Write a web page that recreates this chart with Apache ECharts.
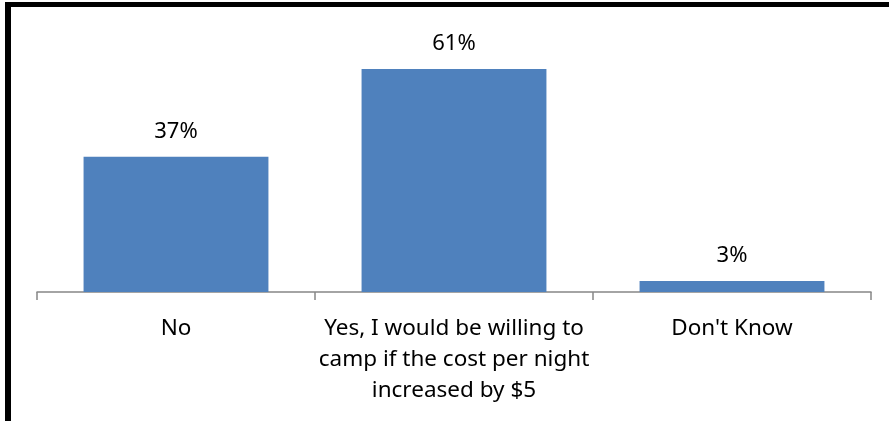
<!DOCTYPE html>
<html><head><meta charset="utf-8">
<script src="https://cdn.jsdelivr.net/npm/echarts@6/dist/echarts.min.js"></script>
<style>html,body{margin:0;padding:0;background:#fff}#c{width:889px;height:421px}</style>
</head><body><div id="c"></div>
<script>
const categories = ["No", "Yes, I would be willing to\ncamp if the cost per night\nincreased by $5", "Don't Know"];
const values = [37, 61, 3];
const labelSuffix = "%";

const chart = echarts.init(document.getElementById('c'));
chart.setOption({
  animation: false,
  backgroundColor: '#fff',
  grid: { left: 37, right: 18, top: 36, bottom: 129, containLabel: false },
  xAxis: {
    type: 'category', data: categories,
    axisLine: { lineStyle: { color: '#868686', width: 1.5 } },
    axisTick: { show: true, length: 8, alignWithLabel: false, lineStyle: { color: '#868686', width: 1.5 } },
    axisLabel: { color: '#000', fontFamily: 'Noto Sans', fontSize: 22.5, lineHeight: 31, margin: 21, interval: 0 }
  },
  yAxis: { type: 'value', min: 0, max: 70, show: false, splitLine: { show: false } },
  series: [{
    type: 'bar', data: values, barWidth: '66.5%',
    itemStyle: { color: '#4F81BD' },
    label: { show: true, position: 'top', distance: 14, color: '#000', fontFamily: 'Noto Sans', fontSize: 22,
      formatter: p => p.value + labelSuffix }
  }],
  graphic: [
    { type: 'rect', shape: { x: 5, y: 2, width: 884, height: 5 }, style: { fill: '#000' }, silent: true },
    { type: 'rect', shape: { x: 5, y: 2, width: 6, height: 419 }, style: { fill: '#000' }, silent: true }
  ]
});
</script></body></html>
